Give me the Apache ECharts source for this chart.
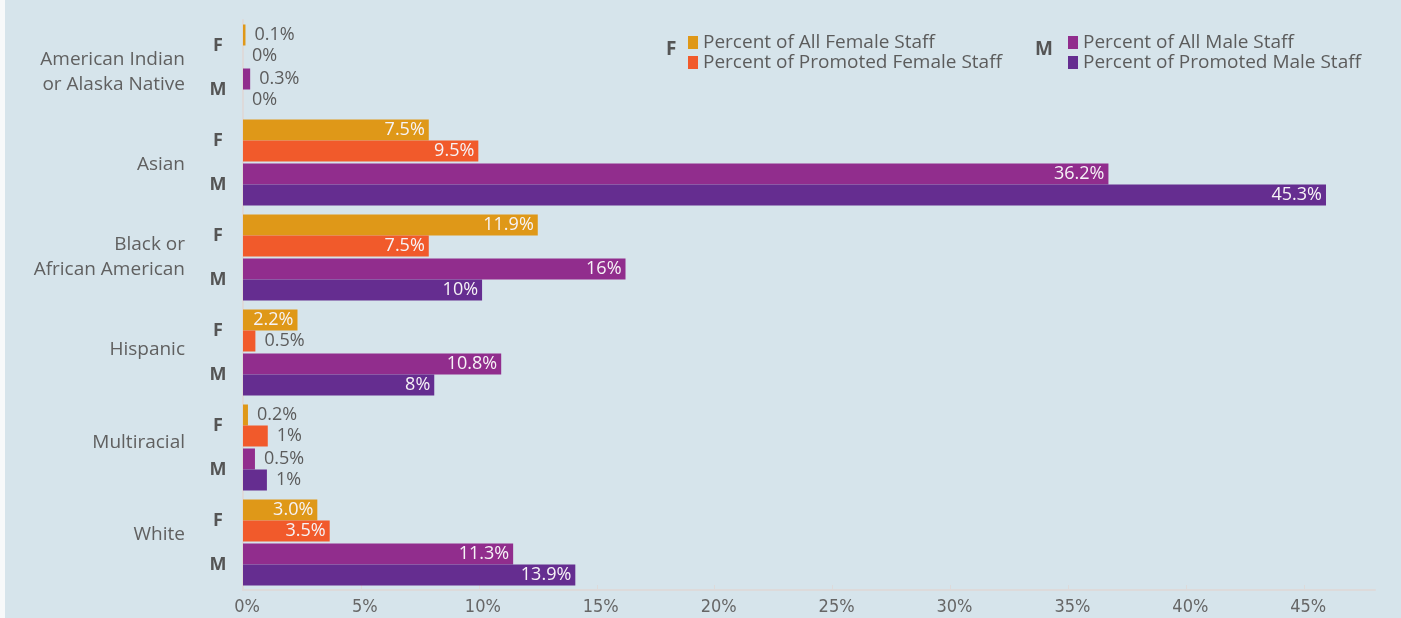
<!DOCTYPE html>
<html>
<head>
<meta charset="utf-8">
<title>Staff and promotions by race/ethnicity and gender</title>
<script src="https://cdn.jsdelivr.net/npm/echarts@6/dist/echarts.min.js"></script>
<style>
  html, body { margin: 0; padding: 0; background: #f7f9fa; }
  #chart { position: absolute; left: 5px; top: 0; width: 1396px; height: 618px; }
</style>
</head>
<body>
<div id="chart"></div>
<script>
// ---- data ----
const categories = ['American Indian\nor Alaska Native', 'Asian', 'Black or\nAfrican American', 'Hispanic', 'Multiracial', 'White'];
// values kept as text so the labels keep their written form (3.0%, 16%)
const femaleAll      = ['0.1', '7.5', '11.9', '2.2', '0.2', '3.0'];
const femalePromoted = ['0',   '9.5', '7.5',  '0.5', '1',   '3.5'];
const maleAll        = ['0.3', '36.2', '16',  '10.8', '0.5', '11.3'];
const malePromoted   = ['0',   '45.3', '10',  '8',    '1',   '13.9'];
const genderRows = ['F', 'M'];
const tickValues = [0, 5, 10, 15, 20, 25, 30, 35, 40, 45];

const seriesNames = ['Percent of All Female Staff', 'Percent of Promoted Female Staff',
                     'Percent of All Male Staff', 'Percent of Promoted Male Staff'];
const seriesColors = ['#df9818', '#f15a2b', '#912d8d', '#652d90'];

const labelFont = 'Open Sans';
const axisFont = '"DejaVu Sans Condensed", "Liberation Sans Narrow", sans-serif';
const grey = '#5c5c5c';

// big bars get the value inside in white, small ones outside in grey
function toItems(list) {
    return list.map(s => {
        const v = parseFloat(s);
        const inside = v >= 2;
        return {
            value: v,
            txt: s,
            label: inside
                ? { position: 'insideRight', distance: 4, color: '#f6f3f6' }
                : { position: 'right', distance: 9, color: grey }
        };
    });
}

function barSeries(idx, list, xIdx) {
    return {
        name: seriesNames[idx],
        type: 'bar',
        xAxisIndex: xIdx,
        yAxisIndex: 0,
        barWidth: 21,
        barGap: '0%',
        itemStyle: { color: seriesColors[idx] },
        label: {
            show: true,
            fontFamily: labelFont,
            fontSize: 18,
            formatter: p => p.data.txt + '%'
        },
        data: toItems(list)
    };
}

// one legend box per entry so the rows sit tight like the original
function legendItem(idx, left, top) {
    return {
        data: [seriesNames[idx]],
        left: left, top: top,
        padding: 0,
        itemWidth: 10, itemHeight: 13,
        icon: 'rect',
        textStyle: { fontFamily: labelFont, fontSize: 19, color: grey }
    };
}

const chart = echarts.init(document.getElementById('chart'));

const option = {
    backgroundColor: '#d6e4eb',
    animation: false,
    grid: [
        { left: 238, right: 26, top: 20, bottom: 28 },
        // the group names sit on a slightly tighter pitch than the bars
        { left: 238, right: 26, top: 26, bottom: 37 }
    ],
    legend: [
        legendItem(0, 683, 33),
        legendItem(1, 683, 53),
        legendItem(2, 1063, 33),
        legendItem(3, 1063, 53)
    ],
    graphic: [
        { type: 'text', left: 661, top: 40, style: { text: 'F', font: 'bold 19px "Open Sans"', fill: '#555' } },
        { type: 'text', left: 1030, top: 40, style: { text: 'M', font: 'bold 19px "Open Sans"', fill: '#555' } }
    ],
    xAxis: [
        {
            type: 'value', position: 'bottom',
            min: 0, max: 48,
            axisLine: { show: true, lineStyle: { color: '#dddada', width: 2 } },
            axisTick: { show: true, inside: true, length: 5, customValues: tickValues, lineStyle: { color: '#dddada' } },
            splitLine: { show: false },
            axisLabel: {
                customValues: tickValues,
                formatter: '{value}%',
                fontFamily: axisFont,
                fontSize: 18,
                color: '#666',
                margin: 8,
                padding: [0, 0, 0, 8]
            }
        },
        // the male bars use their own (hidden) scale, as in the source chart
        { type: 'value', position: 'top', min: 0, max: 47.35, show: false },
        // the female bars too
        { type: 'value', position: 'top', min: 0, max: 45.7, show: false },
        { type: 'value', gridIndex: 1, min: 0, max: 1, show: false }
    ],
    yAxis: [
        {
            type: 'category',
            data: categories,
            inverse: true,
            position: 'left',
            axisLine: { show: true, lineStyle: { color: '#dddada', width: 2 } },
            axisTick: { show: false },
            axisLabel: { show: false }
        },
        {
            // F / M markers beside each pair of bars
            type: 'category',
            data: categories,
            inverse: true,
            position: 'left',
            axisLine: { show: false },
            axisTick: { show: false },
            axisLabel: {
                formatter: () => genderRows.join('\n'),
                fontFamily: labelFont,
                fontWeight: 'bold',
                fontSize: 18,
                lineHeight: 44,
                color: '#555',
                align: 'center',
                margin: 25
            }
        },
        {
            type: 'category',
            gridIndex: 1,
            data: categories,
            inverse: true,
            position: 'left',
            axisLine: { show: false },
            axisTick: { show: false },
            axisLabel: {
                fontFamily: labelFont,
                fontSize: 19,
                lineHeight: 25,
                color: '#606060',
                margin: 58
            }
        }
    ],
    series: [
        barSeries(0, femaleAll, 2),
        barSeries(1, femalePromoted, 2),
        // empty series keeping the small gap between the F and M pairs
        { name: 'gap', type: 'bar', yAxisIndex: 0, xAxisIndex: 1, barWidth: 2, barGap: '0%', silent: true,
          data: categories.map(() => null) },
        barSeries(2, maleAll, 1),
        barSeries(3, malePromoted, 1)
    ]
};

chart.setOption(option);
</script>
</body>
</html>
